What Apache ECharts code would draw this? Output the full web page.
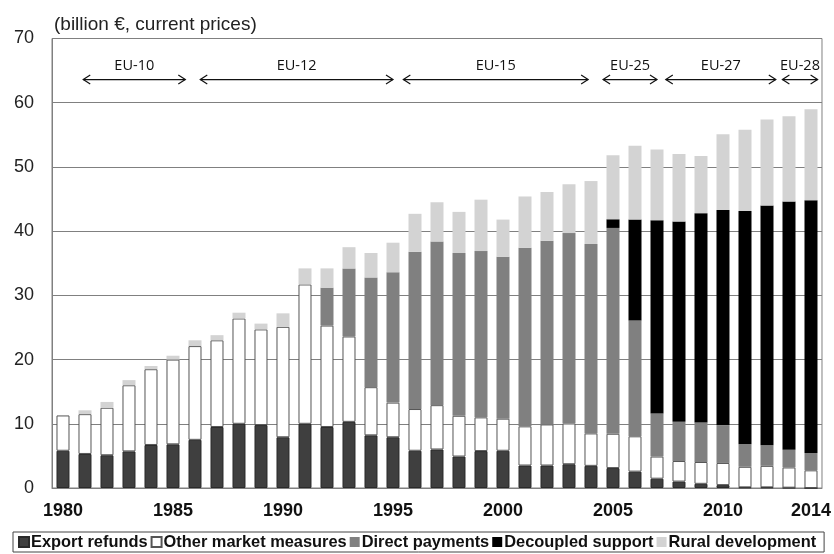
<!DOCTYPE html>
<html><head><meta charset="utf-8">
<script src="https://cdn.jsdelivr.net/npm/echarts@6/dist/echarts.min.js"></script>
<style>html,body{margin:0;padding:0;background:#fff}#c{width:834px;height:554px}</style>
</head><body><div id="c"></div>
<script>
const years = ['1980','1981','1982','1983','1984','1985','1986','1987','1988','1989','1990','1991','1992','1993','1994','1995','1996','1997','1998','1999','2000','2001','2002','2003','2004','2005','2006','2007','2008','2009','2010','2011','2012','2013','2014'];
const xTickLabels = ['1980','1985','1990','1995','2000','2005','2010','2014'];
const yTicks = [0,10,20,30,40,50,60,70];

const exportRefunds = [5.8,5.3,5.1,5.7,6.7,6.8,7.5,9.5,10.0,9.8,7.9,10.0,9.5,10.3,8.2,7.9,5.8,6.0,4.9,5.75,5.8,3.5,3.5,3.7,3.45,3.1,2.55,1.45,1.0,0.65,0.45,0.1,0.1,0.05,0.0];
const otherMarket   = [5.5,6.2,7.4,10.3,11.8,13.2,14.6,13.5,16.4,14.9,17.2,21.7,15.8,13.3,7.5,5.4,6.5,6.9,6.35,5.25,5.0,6.1,6.4,6.35,5.05,5.35,5.5,3.45,3.2,3.4,3.45,3.2,3.35,3.15,2.75];
const directPay     = [0,0,0,0,0,0,0,0,0,0,0,0,5.9,10.6,17.1,20.3,24.5,25.5,25.35,25.9,25.2,27.8,28.6,29.65,29.5,32.05,18.05,6.7,6.1,6.15,5.9,3.5,3.2,2.75,2.7];
const decoupled     = [0,0,0,0,0,0,0,0,0,0,0,0,0,0,0,0,0,0,0,0,0,0,0,0,0,1.35,15.7,30.1,31.2,32.6,33.5,36.35,37.35,38.65,39.35];
const ruralDev      = [0,0.6,0.9,0.8,0.5,0.6,0.9,0.8,0.9,0.9,2.1,2.5,3.0,3.3,3.8,4.6,5.9,6.1,6.4,8.0,5.8,8.0,7.6,7.6,9.8,9.95,11.5,11.0,10.5,8.9,11.8,12.65,13.4,13.3,14.2];

const euLabels = ['EU-10','EU-12','EU-15','EU-25','EU-27','EU-28'];
const euStart  = [0.92, 6.24, 15.47, 24.55, 27.4, 32.7];
const euEnd    = [5.56, 15.0, 23.87, 27.0, 32.4, 34.3];

const chart = echarts.init(document.getElementById('c'), null, {renderer:'canvas'});
const F = 'Arial, "Liberation Sans", sans-serif';
function bar(name, data, color, border) {
  return {
    name, type:'bar', stack:'t', data, barWidth:13,
    itemStyle:{color, borderColor: border || color, borderWidth: border ? 1 : 0},
    emphasis:{disabled:true}
  };
}
chart.setOption({
  animation:false,
  backgroundColor:'#fff',
  title:{text:'(billion €, current prices)', left:49, top:10,
    textStyle:{fontFamily:F, fontSize:19, fontWeight:'normal', color:'#222'}},
  grid:{left:52, right:11, top:38.5, bottom:66, show:true, borderColor:'#808080', borderWidth:1},
  legend:{
    left:13, top:532, itemWidth:10, itemHeight:10, itemGap:3,
    borderColor:'#444', borderWidth:1, padding:[2,8,2,5],
    textStyle:{fontFamily:F, fontSize:16.4, fontWeight:'bold', color:'#111', padding:[0,0,0,-3]},
    data:[
      {name:'Export refunds', icon:'rect'},
      {name:'Other market measures', icon:'rect'},
      {name:'Direct payments', icon:'rect'},
      {name:'Decoupled support', icon:'rect'},
      {name:'Rural development', icon:'rect'}
    ]
  },
  xAxis:{
    type:'category', data:years,
    axisTick:{show:false},
    axisLine:{lineStyle:{color:'#808080'}},
    axisLabel:{interval:0, margin:14, fontFamily:F, fontSize:18, fontWeight:'bold', color:'#111',
      formatter: v => xTickLabels.indexOf(v) >= 0 ? v : ''}
  },
  yAxis:{
    type:'value', min:0, max:70, interval:10,
    axisLine:{show:true, lineStyle:{color:'#808080'}},
    axisLabel:{margin:18, fontFamily:F, fontSize:18, color:'#222',
      formatter: v => yTicks.indexOf(v) >= 0 ? String(v) : ''},
    splitLine:{lineStyle:{color:'#808080', width:1}}
  },
  series:[
    bar('Export refunds', exportRefunds, '#3f3f3f', '#2a2a2a'),
    bar('Other market measures', otherMarket, '#ffffff', '#555'),
    bar('Direct payments', directPay, '#808080'),
    bar('Decoupled support', decoupled, '#000000'),
    bar('Rural development', ruralDev, '#d3d3d3')
  ]
});

function px(f) {
  const p0 = chart.convertToPixel({xAxisIndex:0}, years[0]);
  const p1 = chart.convertToPixel({xAxisIndex:0}, years[1]);
  return p0 + f * (p1 - p0);
}
const gy = v => chart.convertToPixel({yAxisIndex:0}, v);
const g = [];
const ya = gy(63.6), yt = gy(65.8);
euLabels.forEach((lab, k) => {
  const x1 = px(euStart[k]), x2 = px(euEnd[k]);
  const st = {stroke:'#111', lineWidth:1.2, fill:null};
  g.push({type:'line', shape:{x1, y1:ya, x2, y2:ya}, style:st});
  g.push({type:'polyline', shape:{points:[[x1+7,ya-4.5],[x1,ya],[x1+7,ya+4.5]]}, style:st});
  g.push({type:'polyline', shape:{points:[[x2-7,ya-4.5],[x2,ya],[x2-7,ya+4.5]]}, style:st});
  g.push({type:'text', x:(x1+x2)/2, y:yt, style:{text:lab, fill:'#111', font:'14.5px "Open Sans", sans-serif', textAlign:'center', textVerticalAlign:'middle'}});
});
chart.setOption({graphic:g});
</script>
</body></html>
